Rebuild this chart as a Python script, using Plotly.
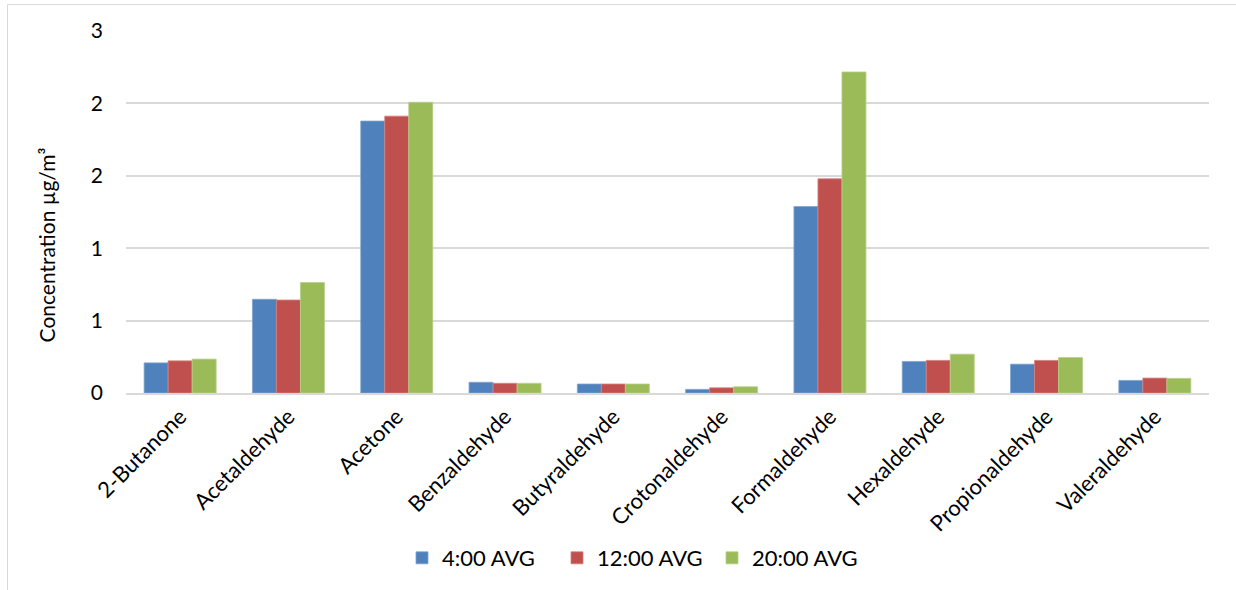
import plotly.graph_objects as go

categories = ["2-Butanone", "Acetaldehyde", "Acetone", "Benzaldehyde", "Butyraldehyde",
              "Crotonaldehyde", "Formaldehyde", "Hexaldehyde", "Propionaldehyde", "Valeraldehyde"]
avg_0400 = [0.208, 0.647, 1.878, 0.074, 0.062, 0.025, 1.288, 0.218, 0.199, 0.087]
avg_1200 = [0.222, 0.642, 1.912, 0.067, 0.062, 0.036, 1.479, 0.225, 0.225, 0.103]
avg_2000 = [0.234, 0.763, 2.008, 0.067, 0.062, 0.043, 2.217, 0.268, 0.245, 0.101]
series_names = ["4:00 AVG", "12:00 AVG", "20:00 AVG"]
y_tickvals = [0, 0.5, 1.0, 1.5, 2.0, 2.5]
y_ticktext = ["0", "1", "1", "2", "2", "3"]
y_title = "Concentration µg/m³"

colors = ["#4F81BD", "#C0504D", "#9BBB59"]
edge = ["#7FA3D1", "#D47F7D", "#B7CF89"]
FONT = "Lato, sans-serif"

fig = go.Figure()
for name, vals, c, e in zip(series_names, [avg_0400, avg_1200, avg_2000], colors, edge):
    fig.add_trace(go.Bar(x=categories, y=vals, name=name,
                         marker=dict(color=c, line=dict(color=e, width=0.8))))

W, H = 1236, 590
ml, mr, mt, mb = 126, 27, 31, 196
pw, ph = W - ml - mr, H - mt - mb

def px_x(p):
    return (p - ml) / pw

def px_y(p):
    return (H - mb - p) / ph

fig.update_layout(
    width=W, height=H,
    margin=dict(l=ml, r=mr, t=mt, b=mb),
    paper_bgcolor="white", plot_bgcolor="white",
    barmode="group", bargap=0.335, bargroupgap=0,
    font=dict(family=FONT, size=21, color="#000000"),
    showlegend=True,
    legend=dict(orientation="h", x=px_x(402), xanchor="left", y=px_y(558), yanchor="middle",
                font=dict(size=22, color="#000000"), traceorder="normal",
                itemwidth=30, entrywidth=110),
    xaxis=dict(tickangle=-45, showgrid=False, showline=True, linecolor="#D9D9D9", linewidth=2,
               ticks="", tickfont=dict(size=22)),
    yaxis=dict(range=[0, 2.5], tickvals=y_tickvals, ticktext=y_ticktext,
               showgrid=True, gridcolor="#D9D9D9", gridwidth=2, zeroline=False,
               showline=False, ticks="", ticklabelstandoff=22, tickfont=dict(size=21)),
    annotations=[dict(text=y_title, xref="paper", yref="paper", x=px_x(46), y=px_y(246),
                      xanchor="center", yanchor="middle", textangle=-90, showarrow=False,
                      font=dict(size=21, color="#000000"))],
    shapes=[dict(type="rect", xref="paper", yref="paper",
                 x0=px_x(7.5), x1=px_x(1250), y0=px_y(610), y1=px_y(4.5),
                 line=dict(color="#D9D9D9", width=1), fillcolor="rgba(0,0,0,0)", layer="below")],
)

fig.write_html("out.html", config={"displayModeBar": False},
               post_script="document.body.style.margin='0';")
